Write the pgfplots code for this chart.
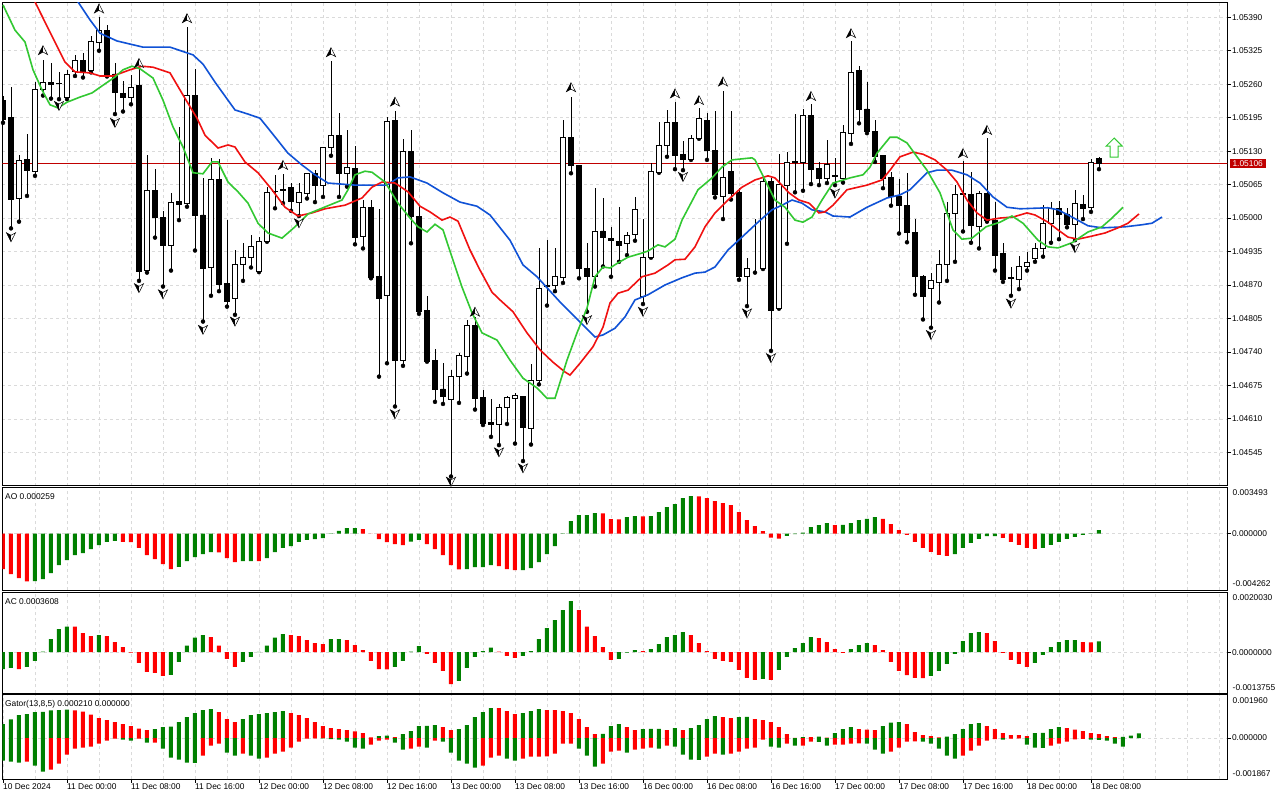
\documentclass[border=0pt]{standalone}
\usepackage{fontspec}
\setmainfont{Liberation Sans}
\usepackage{pgfplots}
\usepackage{pgfplotstable}
\pgfplotsset{compat=1.18}

\definecolor{aogreen}{RGB}{0,128,0}
\definecolor{aored}{RGB}{255,0,0}
\definecolor{jaw}{RGB}{16,82,214}
\definecolor{teeth}{RGB}{240,16,16}
\definecolor{lips}{RGB}{50,200,50}
\definecolor{bidred}{RGB}{192,0,0}
\definecolor{gridc}{RGB}{218,218,218}
\newcommand\lbl{\fontsize{8.4}{9.5}\selectfont}

\pgfdeclareplotmark{fup}{%
  \pgfpathmoveto{\pgfqpoint{0pt}{4.6pt}}%
  \pgfpathlineto{\pgfqpoint{4.6pt}{-4.4pt}}%
  \pgfpathlineto{\pgfqpoint{0pt}{-1.8pt}}%
  \pgfpathlineto{\pgfqpoint{-4.6pt}{-4.4pt}}%
  \pgfpathclose
  \pgfsetfillcolor{white}\pgfusepathqfillstroke
  \pgfpathmoveto{\pgfqpoint{0pt}{4.6pt}}%
  \pgfpathlineto{\pgfqpoint{0pt}{-1.8pt}}%
  \pgfpathlineto{\pgfqpoint{-4.6pt}{-4.4pt}}%
  \pgfpathclose
  \pgfsetfillcolor{black}\pgfusepathqfill}
\pgfdeclareplotmark{fdown}{%
  \pgfpathmoveto{\pgfqpoint{0pt}{-4.6pt}}%
  \pgfpathlineto{\pgfqpoint{4.6pt}{4.4pt}}%
  \pgfpathlineto{\pgfqpoint{0pt}{1.8pt}}%
  \pgfpathlineto{\pgfqpoint{-4.6pt}{4.4pt}}%
  \pgfpathclose
  \pgfsetfillcolor{white}\pgfusepathqfillstroke
  \pgfpathmoveto{\pgfqpoint{0pt}{-4.6pt}}%
  \pgfpathlineto{\pgfqpoint{0pt}{1.8pt}}%
  \pgfpathlineto{\pgfqpoint{-4.6pt}{4.4pt}}%
  \pgfpathclose
  \pgfsetfillcolor{black}\pgfusepathqfill}
\pgfdeclareplotmark{bigup}{%
  \pgfpathmoveto{\pgfqpoint{0pt}{9.5pt}}%
  \pgfpathlineto{\pgfqpoint{8pt}{1.5pt}}%
  \pgfpathlineto{\pgfqpoint{4pt}{1.5pt}}%
  \pgfpathlineto{\pgfqpoint{4pt}{-9.5pt}}%
  \pgfpathlineto{\pgfqpoint{-4pt}{-9.5pt}}%
  \pgfpathlineto{\pgfqpoint{-4pt}{1.5pt}}%
  \pgfpathlineto{\pgfqpoint{-8pt}{1.5pt}}%
  \pgfpathclose
  \pgfusepathqfillstroke}

\pgfplotstableread{
k o h l c
0 1.05229 1.05237 1.05185 1.05192
1 1.05195 1.05254 1.04980 1.05036
2 1.05038 1.05123 1.04993 1.05112
3 1.05114 1.05163 1.05043 1.05093
4 1.05091 1.05265 1.05082 1.05250
5 1.05249 1.05308 1.05238 1.05264
6 1.05264 1.05302 1.05232 1.05260
7 1.05262 1.05284 1.05231 1.05261
8 1.05235 1.05288 1.05231 1.05279
9 1.05284 1.05317 1.05276 1.05306
10 1.05306 1.05320 1.05273 1.05284
11 1.05286 1.05354 1.05283 1.05343
12 1.05341 1.05390 1.05325 1.05365
13 1.05365 1.05375 1.05275 1.05278
14 1.05280 1.05301 1.05202 1.05244
15 1.05242 1.05266 1.05207 1.05234
16 1.05235 1.05278 1.05221 1.05254
17 1.05257 1.05289 1.04878 1.04896
18 1.04899 1.05123 1.04894 1.05053
19 1.05053 1.05095 1.04962 1.05001
20 1.05002 1.05014 1.04867 1.04946
21 1.04946 1.05049 1.04898 1.05031
22 1.05032 1.05177 1.04996 1.05027
23 1.05029 1.05371 1.05022 1.05239
24 1.05239 1.05289 1.04937 1.05005
25 1.05006 1.05077 1.04799 1.04902
26 1.04904 1.05116 1.04849 1.05075
27 1.05075 1.05115 1.04858 1.04872
28 1.04873 1.04996 1.04828 1.04839
29 1.04844 1.04938 1.04812 1.04910
30 1.04910 1.04951 1.04878 1.04924
31 1.04924 1.04968 1.04904 1.04945
32 1.04897 1.04964 1.04895 1.04955
33 1.04955 1.05061 1.04954 1.05050
34 1.05051 1.05084 1.05019 1.05050
35 1.05056 1.05086 1.05029 1.05054
36 1.05059 1.05069 1.05014 1.05032
37 1.05031 1.05069 1.05004 1.05050
38 1.05048 1.05087 1.05038 1.05086
39 1.05086 1.05093 1.05031 1.05063
40 1.05063 1.05138 1.05041 1.05137
41 1.05137 1.05305 1.05121 1.05161
42 1.05161 1.05205 1.05041 1.05087
43 1.05087 1.05171 1.05061 1.05099
44 1.05097 1.05140 1.04949 1.04962
45 1.04964 1.05036 1.04941 1.05021
46 1.05021 1.05036 1.04883 1.04885
47 1.04887 1.05017 1.04692 1.04844
48 1.04849 1.05197 1.04718 1.05187
49 1.05190 1.05207 1.04634 1.04724
50 1.04723 1.05153 1.04713 1.05130
51 1.05130 1.05171 1.04951 1.05003
52 1.05004 1.05025 1.04814 1.04819
53 1.04821 1.04849 1.04721 1.04722
54 1.04724 1.04745 1.04643 1.04667
55 1.04668 1.04718 1.04639 1.04654
56 1.04648 1.04705 1.04498 1.04693
57 1.04692 1.04738 1.04641 1.04733
58 1.04731 1.04802 1.04698 1.04792
59 1.04792 1.04808 1.04628 1.04650
60 1.04651 1.04666 1.04598 1.04602
61 1.04603 1.04648 1.04575 1.04599
62 1.04599 1.04638 1.04559 1.04632
63 1.04632 1.04655 1.04600 1.04651
64 1.04650 1.04660 1.04562 1.04655
65 1.04653 1.04654 1.04528 1.04593
66 1.04592 1.04716 1.04560 1.04685
67 1.04685 1.04941 1.04677 1.04864
68 1.04869 1.04957 1.04830 1.04867
69 1.04869 1.04941 1.04858 1.04887
70 1.04885 1.05190 1.04874 1.05157
71 1.05157 1.05236 1.05087 1.05102
72 1.05103 1.05104 1.04883 1.04902
73 1.04902 1.04951 1.04818 1.04886
74 1.04887 1.05058 1.04867 1.04975
75 1.04975 1.05038 1.04906 1.04962
76 1.04961 1.04982 1.04886 1.04957
77 1.04955 1.05022 1.04915 1.04946
78 1.04951 1.04972 1.04928 1.04967
79 1.04968 1.05040 1.04956 1.05017
80 1.04847 1.04998 1.04833 1.04924
81 1.04924 1.05106 1.04923 1.05090
82 1.05089 1.05187 1.05088 1.05141
83 1.05141 1.05210 1.05119 1.05185
84 1.05186 1.05225 1.05095 1.05121
85 1.05123 1.05150 1.05093 1.05114
86 1.05114 1.05161 1.05113 1.05155
87 1.05155 1.05213 1.05154 1.05194
88 1.05190 1.05205 1.05113 1.05131
89 1.05132 1.05207 1.05040 1.05046
90 1.05043 1.05247 1.04998 1.05079
91 1.05091 1.05208 1.05036 1.05048
92 1.05049 1.05058 1.04880 1.04886
93 1.04886 1.04923 1.04829 1.04902
94 1.04904 1.04998 1.04894 1.04904
95 1.04902 1.05079 1.04901 1.05072
96 1.05072 1.05077 1.04742 1.04821
97 1.04825 1.05124 1.04824 1.05066
98 1.05063 1.05128 1.04950 1.05109
99 1.05110 1.05202 1.05050 1.05108
100 1.05108 1.05212 1.05053 1.05199
101 1.05200 1.05222 1.05066 1.05095
102 1.05097 1.05108 1.05064 1.05078
103 1.05077 1.05152 1.05068 1.05105
104 1.05082 1.05116 1.05064 1.05080
105 1.05077 1.05181 1.05069 1.05167
106 1.05165 1.05343 1.05144 1.05282
107 1.05286 1.05295 1.05184 1.05211
108 1.05212 1.05265 1.05165 1.05168
109 1.05169 1.05190 1.05109 1.05119
110 1.05121 1.05122 1.05058 1.05078
111 1.05079 1.05090 1.05024 1.05043
112 1.05043 1.05076 1.04970 1.05024
113 1.05025 1.05088 1.04953 1.04972
114 1.04972 1.04999 1.04851 1.04886
115 1.04887 1.04889 1.04803 1.04847
116 1.04864 1.04893 1.04787 1.04878
117 1.04876 1.04938 1.04836 1.04910
118 1.04910 1.05031 1.04878 1.05009
119 1.05009 1.05064 1.04915 1.05045
120 1.05047 1.05111 1.04974 1.05045
121 1.05046 1.05090 1.04952 1.04985
122 1.04983 1.05053 1.04941 1.05048
123 1.05048 1.05155 1.04993 1.04996
124 1.04996 1.05032 1.04898 1.04928
125 1.04932 1.04951 1.04876 1.04880
126 1.04884 1.04904 1.04849 1.04882
127 1.04880 1.04926 1.04862 1.04906
128 1.04906 1.04935 1.04898 1.04914
129 1.04922 1.04951 1.04915 1.04941
130 1.04941 1.05025 1.04925 1.04990
131 1.04990 1.05032 1.04952 1.05019
132 1.05018 1.05033 1.04959 1.05008
133 1.05008 1.05019 1.04982 1.04987
134 1.04988 1.05054 1.04957 1.05029
135 1.05027 1.05045 1.04998 1.05019
136 1.05021 1.05114 1.05012 1.05108
137 1.05116 1.05119 1.05095 1.05106
}\candles

\pgfplotstableread{
k v g
0 -0.002693 0
1 -0.003071 0
2 -0.003373 0
3 -0.003610 0
4 -0.003599 1
5 -0.003448 1
6 -0.002995 1
7 -0.002391 1
8 -0.002014 1
9 -0.001636 1
10 -0.001485 1
11 -0.001183 1
12 -0.000881 1
13 -0.000629 1
14 -0.000554 1
15 -0.000629 0
16 -0.000654 0
17 -0.001082 0
18 -0.001636 0
19 -0.001938 0
20 -0.002316 0
21 -0.002693 0
22 -0.002517 1
23 -0.002089 1
24 -0.001787 1
25 -0.001561 1
26 -0.001410 1
27 -0.001420 0
28 -0.001863 0
29 -0.002165 0
30 -0.002089 1
31 -0.002080 1
32 -0.002085 0
33 -0.001863 1
34 -0.001410 1
35 -0.001082 1
36 -0.000956 1
37 -0.000629 1
38 -0.000478 1
39 -0.000428 1
40 -0.000352 1
41 -0.000025 1
42 0.000201 1
43 0.000403 1
44 0.000410 1
45 0.000327 0
46 -0.000010 0
47 -0.000428 0
48 -0.000654 0
49 -0.000805 0
50 -0.000881 0
51 -0.000604 1
52 -0.000478 1
53 -0.000805 0
54 -0.001183 0
55 -0.001636 0
56 -0.002391 0
57 -0.002700 0
58 -0.002690 1
59 -0.002542 1
60 -0.002540 1
61 -0.002391 1
62 -0.002467 0
63 -0.002693 0
64 -0.002769 0
65 -0.002765 1
66 -0.002618 1
67 -0.002165 1
68 -0.001561 1
69 -0.000956 1
70 0.000010 1
71 0.000931 1
72 0.001384 1
73 0.001390 1
74 0.001535 1
75 0.001530 0
76 0.001082 0
77 0.001078 0
78 0.001233 1
79 0.001309 1
80 0.001300 0
81 0.001320 1
82 0.001611 1
83 0.001988 1
84 0.002215 1
85 0.002668 1
86 0.002819 1
87 0.002810 0
88 0.002668 0
89 0.002441 0
90 0.002290 0
91 0.002139 0
92 0.001611 0
93 0.001007 0
94 0.000554 0
95 0.000176 0
96 -0.000302 0
97 -0.000378 0
98 -0.000176 1
99 -0.000050 1
100 0.000076 1
101 0.000478 1
102 0.000629 1
103 0.000780 1
104 0.000629 0
105 0.000654 1
106 0.000780 1
107 0.001007 1
108 0.001107 1
109 0.001233 1
110 0.001107 0
111 0.000705 0
112 0.000252 0
113 -0.000101 0
114 -0.000629 0
115 -0.001082 0
116 -0.001384 0
117 -0.001611 0
118 -0.001686 0
119 -0.001561 1
120 -0.001082 1
121 -0.000705 1
122 -0.000403 1
123 -0.000201 1
124 -0.000195 1
125 -0.000327 0
126 -0.000629 0
127 -0.000856 0
128 -0.001082 0
129 -0.001158 0
130 -0.001082 1
131 -0.000856 1
132 -0.000629 1
133 -0.000403 1
134 -0.000252 1
135 -0.000101 1
136 -0.000025 1
137 0.000259 1
}\aotab

\pgfplotstableread{
k v g
0 -0.000569 1
1 -0.000524 1
2 -0.000569 0
3 -0.000491 1
4 -0.000290 1
5 0.000022 1
6 0.000435 1
7 0.000769 1
8 0.000859 1
9 0.000855 0
10 0.000636 0
11 0.000535 0
12 0.000569 1
13 0.000535 0
14 0.000335 0
15 0.000167 0
16 -0.000011 0
17 -0.000357 0
18 -0.000658 0
19 -0.000691 0
20 -0.000792 0
21 -0.000758 1
22 -0.000323 1
23 0.000223 1
24 0.000491 1
25 0.000569 1
26 0.000502 0
27 0.000223 0
28 -0.000223 0
29 -0.000491 0
30 -0.000323 1
31 -0.000156 1
32 0.000011 1
33 0.000223 1
34 0.000491 1
35 0.000602 1
36 0.000569 0
37 0.000535 0
38 0.000401 0
39 0.000301 0
40 0.000268 0
41 0.000435 1
42 0.000440 1
43 0.000401 0
44 0.000234 0
45 0.000067 0
46 -0.000290 0
47 -0.000569 0
48 -0.000575 0
49 -0.000491 1
50 -0.000290 1
51 0.000022 1
52 0.000201 1
53 -0.000056 0
54 -0.000357 0
55 -0.000624 0
56 -0.001070 0
57 -0.000959 1
58 -0.000524 1
59 -0.000156 1
60 0.000033 1
61 0.000156 1
62 0.000022 0
63 -0.000123 0
64 -0.000190 0
65 -0.000123 1
66 0.000033 1
67 0.000435 1
68 0.000803 1
69 0.001070 1
70 0.001405 1
71 0.001706 1
72 0.001405 0
73 0.000859 0
74 0.000535 0
75 0.000167 0
76 -0.000256 0
77 -0.000223 1
78 -0.000011 1
79 0.000067 1
80 0.000033 0
81 0.000100 1
82 0.000268 1
83 0.000502 1
84 0.000569 1
85 0.000669 1
86 0.000569 0
87 0.000301 0
88 0.000033 0
89 -0.000223 0
90 -0.000290 0
91 -0.000323 0
92 -0.000591 0
93 -0.000859 0
94 -0.000925 0
95 -0.000892 1
96 -0.000925 0
97 -0.000591 1
98 -0.000156 1
99 0.000134 1
100 0.000301 1
101 0.000502 1
102 0.000468 0
103 0.000335 0
104 0.000100 0
105 -0.000022 0
106 0.000100 1
107 0.000234 1
108 0.000301 1
109 0.000234 0
110 0.000067 0
111 -0.000323 0
112 -0.000624 0
113 -0.000769 0
114 -0.000859 0
115 -0.000865 0
116 -0.000792 1
117 -0.000624 1
118 -0.000390 1
119 -0.000056 1
120 0.000368 1
121 0.000636 1
122 0.000669 1
123 0.000636 0
124 0.000368 0
125 -0.000022 0
126 -0.000256 0
127 -0.000390 0
128 -0.000491 0
129 -0.000357 1
130 -0.000089 1
131 0.000167 1
132 0.000335 1
133 0.000401 1
134 0.000405 1
135 0.000335 0
136 0.000330 0
137 0.000361 1
}\actab

\pgfplotstableread{
k v g
0 0.000633 1
1 0.000844 1
2 0.001040 1
3 0.001085 1
4 0.001175 1
5 0.001180 1
6 0.001251 1
7 0.001266 1
8 0.001280 1
9 0.001251 0
10 0.001191 0
11 0.001055 0
12 0.000904 0
13 0.000814 0
14 0.000723 0
15 0.000633 0
16 0.000543 0
17 0.000422 0
18 0.000362 0
19 0.000407 1
20 0.000497 1
21 0.000512 1
22 0.000723 1
23 0.000949 1
24 0.001130 1
25 0.001266 1
26 0.001311 1
27 0.001175 0
28 0.000859 0
29 0.000723 0
30 0.000859 1
31 0.001040 1
32 0.001085 1
33 0.001130 1
34 0.001175 1
35 0.001221 1
36 0.001130 0
37 0.001040 0
38 0.000904 0
39 0.000723 0
40 0.000543 0
41 0.000452 0
42 0.000407 0
43 0.000362 0
44 0.000301 0
45 0.000226 0
46 0.000030 0
47 0.000090 1
48 0.000105 1
49 0.000045 0
50 0.000181 1
51 0.000316 1
52 0.000543 1
53 0.000550 1
54 0.000588 1
55 0.000497 0
56 0.000362 0
57 0.000407 1
58 0.000588 1
59 0.000949 1
60 0.001175 1
61 0.001356 1
62 0.001350 0
63 0.001221 0
64 0.001085 0
65 0.001130 1
66 0.001221 1
67 0.001311 1
68 0.001266 0
69 0.001260 0
70 0.001221 0
71 0.001130 0
72 0.000859 0
73 0.000497 0
74 0.000181 0
75 0.000190 1
76 0.000543 1
77 0.000633 1
78 0.000497 0
79 0.000362 0
80 0.000407 1
81 0.000410 1
82 0.000415 1
83 0.000362 0
84 0.000452 1
85 0.000362 0
86 0.000452 1
87 0.000588 1
88 0.000859 1
89 0.000995 1
90 0.000949 0
91 0.000904 0
92 0.000949 1
93 0.000955 1
94 0.000859 0
95 0.000814 0
96 0.000723 0
97 0.000497 0
98 0.000181 0
99 0.000010 0
100 0.000045 1
101 0.000040 0
102 0.000060 1
103 0.000020 0
104 0.000226 1
105 0.000407 1
106 0.000497 1
107 0.000407 0
108 0.000377 0
109 0.000362 0
110 0.000543 1
111 0.000693 1
112 0.000723 1
113 0.000633 0
114 0.000271 0
115 0.000136 0
116 0.000090 0
117 0.000030 0
118 0.000060 1
119 0.000181 1
120 0.000407 1
121 0.000633 1
122 0.000678 1
123 0.000543 0
124 0.000407 0
125 0.000226 0
126 0.000136 0
127 0.000130 0
128 0.000090 0
129 0.000226 1
130 0.000230 1
131 0.000407 1
132 0.000497 1
133 0.000452 0
134 0.000377 0
135 0.000316 0
136 0.000226 0
137 0.000181 0
138 0.000090 0
139 0.000045 0
140 0.000050 1
141 0.000105 1
142 0.000210 1
}\gup

\pgfplotstableread{
k v g
0 -0.001025 1
1 -0.001070 1
2 -0.001115 1
3 -0.001070 0
4 -0.001251 1
5 -0.001522 1
6 -0.001432 0
7 -0.001160 0
8 -0.000754 0
9 -0.000482 0
10 -0.000437 0
11 -0.000392 0
12 -0.000256 0
13 -0.000121 0
14 -0.000030 0
15 -0.000075 1
16 -0.000121 1
17 -0.000030 0
18 -0.000211 1
19 -0.000205 0
20 -0.000482 1
21 -0.000889 1
22 -0.000980 1
23 -0.001115 1
24 -0.001120 1
25 -0.000799 0
26 -0.000347 0
27 -0.000256 0
28 -0.000663 1
29 -0.000799 1
30 -0.000708 0
31 -0.000799 1
32 -0.000934 1
33 -0.000889 0
34 -0.000708 0
35 -0.000618 0
36 -0.000437 0
37 -0.000166 0
38 -0.000030 0
39 -0.000015 0
40 -0.000020 1
41 -0.000045 1
42 -0.000075 1
43 -0.000166 1
44 -0.000437 1
45 -0.000482 1
46 -0.000301 0
47 -0.000121 0
48 -0.000075 0
49 -0.000211 1
50 -0.000527 1
51 -0.000482 0
52 -0.000392 0
53 -0.000437 1
54 -0.000121 0
55 -0.000166 1
56 -0.000663 1
57 -0.001025 1
58 -0.001160 1
59 -0.001341 1
60 -0.001251 0
61 -0.000889 0
62 -0.000799 0
63 -0.000934 1
64 -0.001025 1
65 -0.000934 0
66 -0.000844 0
67 -0.000840 0
68 -0.000835 0
69 -0.000708 0
70 -0.000256 0
71 -0.000250 0
72 -0.000482 1
73 -0.000799 1
74 -0.001296 1
75 -0.001160 0
76 -0.000618 0
77 -0.000573 0
78 -0.000663 1
79 -0.000527 0
80 -0.000482 0
81 -0.000437 0
82 -0.000482 1
83 -0.000347 0
84 -0.000392 1
85 -0.000754 1
86 -0.000980 1
87 -0.000985 1
88 -0.000844 0
89 -0.000708 0
90 -0.000754 1
91 -0.000708 0
92 -0.000618 0
93 -0.000482 0
94 -0.000437 0
95 -0.000075 0
96 -0.000392 1
97 -0.000437 1
98 -0.000256 0
99 -0.000347 1
100 -0.000340 0
101 -0.000166 0
102 -0.000170 1
103 -0.000347 1
104 -0.000301 0
105 -0.000296 0
106 -0.000256 0
107 -0.000241 0
108 -0.000256 1
109 -0.000527 1
110 -0.000708 1
111 -0.000618 0
112 -0.000437 0
113 -0.000166 0
114 -0.000150 0
115 -0.000166 1
116 -0.000256 1
117 -0.000482 1
118 -0.000799 1
119 -0.000934 1
120 -0.000799 0
121 -0.000573 0
122 -0.000347 0
123 -0.000121 0
124 -0.000045 0
125 -0.000075 1
126 -0.000030 0
127 -0.000020 0
128 -0.000301 1
129 -0.000437 1
130 -0.000440 1
131 -0.000347 0
132 -0.000256 0
133 -0.000166 0
134 -0.000060 0
135 -0.000040 0
136 -0.000075 1
137 -0.000080 1
138 -0.000121 1
139 -0.000256 1
140 -0.000392 1
}\gdown

\pgfplotsset{
  base/.style={scale only axis, width=1225pt, xmin=-0.0875, xmax=153.04,
    scaled y ticks=false, scaled x ticks=false,
    axis line style={black, line width=0.8pt},
    every tick label/.append style={font=\lbl, inner sep=0pt},
    major grid style={gridc, dash pattern=on 3pt off 3pt, line width=0.6pt}},
  gridx/.style={xtick={4,8,...,152}, xticklabels={}, xtick style={draw=none}, xmajorgrids},
  righty/.style={ytick pos=right, yticklabel pos=right, tick align=outside,
    major tick length=3.5pt, ytick style={black, line width=0.8pt},
    yticklabel style={anchor=west, xshift=1pt}, ymajorgrids},
  ov/.style={scale only axis, width=1225pt, xmin=-0.0875, xmax=153.04, hide axis},
  gbar/.style={ybar, bar shift=0pt, bar width=4pt, draw=none, fill=aogreen,
    restrict expr to domain={\thisrow{g}}{0.5:1.5}},
  rbar/.style={ybar, bar shift=0pt, bar width=4pt, draw=none, fill=aored,
    restrict expr to domain={\thisrow{g}}{-0.5:0.5}},
}

\begin{document}
\begin{tikzpicture}
\path[use as bounding box, fill=white] (0,0) rectangle (1280pt,-800pt);

% ---------- main price window: grid, bid line, wicks
\begin{axis}[base, gridx, righty, at={(2.3pt,-2.3pt)}, anchor=north west,
  height=483.2pt, ymin=1.044805, ymax=1.054191,
  ytick={1.04545,1.04610,1.04675,1.04740,1.04805,1.04870,1.04935,1.05000,1.05065,1.05130,1.05195,1.05260,1.05325,1.05390},
  yticklabels={1.04545,1.04610,1.04675,1.04740,1.04805,1.04870,1.04935,1.05000,1.05065,1.05130,1.05195,1.05260,1.05325,1.05390}]
\addplot[bidred, line width=0.8pt] coordinates {(-1,1.05106) (160,1.05106)};
\addplot[only marks, mark=none,
  error bars/.cd, y dir=plus, y explicit, error mark=none,
  error bar style={draw=black, line width=0.8pt, solid}]
  table[x=k, y=l, y error plus expr={\thisrow{h}-\thisrow{l}}] {\candles};
\end{axis}

% ---------- candle bodies
\begin{axis}[ov, at={(2.3pt,-2.3pt)}, anchor=north west,
  height=483.2pt, ymin=1.044805, ymax=1.054191, ybar stacked, bar width=4.2pt]
\addplot[draw=none, fill=none] table[x=k, y expr={min(\thisrow{o},\thisrow{c})}] {\candles};
\addplot[draw=black, fill=white, line width=0.8pt] table[x=k, y expr={max(\thisrow{c}-\thisrow{o},0)}] {\candles};
\addplot[draw=black, fill=black, line width=0.8pt] table[x=k, y expr={max(\thisrow{o}-\thisrow{c},0)}] {\candles};
\end{axis}

% ---------- alligator, fractals, signal arrow
\begin{axis}[ov, at={(2.3pt,-2.3pt)}, anchor=north west,
  height=483.2pt, ymin=1.044805, ymax=1.054191]
\addplot[jaw, line width=1.6pt] coordinates {
(8.375,1.05439) (9.375,1.05420) (10.875,1.05385) (12.125,1.05359) (14.25,1.05344) (17.5,1.05332) (20.875,1.05332) (23.75,1.05317) (25,1.05299) (26.5,1.05264) (29,1.05210) (30.625,1.05202) (32.125,1.05194) (33.625,1.05165) (35.625,1.05126) (37.375,1.05103) (39,1.05084) (40.625,1.05068) (44,1.05064) (48,1.05064) (49.375,1.05078) (50.875,1.05080) (53,1.05068) (55,1.05049) (57.125,1.05031) (59.25,1.05023) (60.875,1.05006) (63.375,1.04957) (65,1.04909) (66.75,1.04886) (69.625,1.04837) (72.125,1.04798) (74,1.04769) (75,1.04773) (76.5,1.04786) (77.75,1.04808) (79,1.04841) (80.625,1.04851) (82.75,1.04870) (84.875,1.04884) (86.5,1.04893) (87.75,1.04895) (89,1.04905) (90.625,1.04938) (92.375,1.04963) (94.375,1.04992) (96.125,1.05016) (97.375,1.05025) (98.625,1.05035) (99.875,1.05029) (101.125,1.05016) (102.75,1.05012) (103.75,1.05004) (105.875,1.05002) (108,1.05021) (110.5,1.05039) (112.125,1.05045) (113.375,1.05055) (115.5,1.05088) (116.75,1.05093) (118.625,1.05093) (120.5,1.05084) (122.125,1.05068) (123.75,1.05041) (125.5,1.05021) (127.125,1.05018) (130.625,1.05020) (131.875,1.05016) (133.625,1.05002) (135.625,1.04985) (137.375,1.04981) (140.25,1.04983) (142.375,1.04987) (143.625,1.04990) (144.875,1.05002)};
\addplot[teeth, line width=1.6pt] coordinates {
(3.125,1.05443) (4,1.05420) (5.875,1.05361) (7.75,1.05303) (9,1.05284) (10.875,1.05282) (12.125,1.05276) (13.75,1.05276) (15.875,1.05288) (17.375,1.05295) (18.75,1.05293) (20.875,1.05282) (22.5,1.05239) (24.25,1.05194) (25.25,1.05161) (26.875,1.05136) (28.125,1.05142) (29,1.05138) (30.25,1.05109) (31.875,1.05088) (33.625,1.05055) (35.25,1.05021) (36.875,1.05004) (38.625,1.05010) (40.25,1.05018) (42.75,1.05025) (44.875,1.05039) (46.125,1.05060) (47.375,1.05070) (49,1.05068) (50.625,1.05051) (52.125,1.05023) (53.375,1.05012) (54.875,1.04996) (55.875,1.05002) (56.875,1.04994) (58.375,1.04938) (59.625,1.04899) (61.125,1.04856) (62.125,1.04841) (63.75,1.04818) (65.5,1.04777) (67.125,1.04744) (68.75,1.04720) (70.25,1.04701) (70.875,1.04695) (72.125,1.04718) (73.75,1.04750) (75,1.04788) (75.875,1.04835) (76.875,1.04854) (78.125,1.04860) (79.875,1.04886) (81.5,1.04893) (83.125,1.04909) (84,1.04919) (85.25,1.04920) (86.5,1.04944) (87.75,1.04983) (89,1.05010) (90.625,1.05035) (92.375,1.05060) (94,1.05074) (95.625,1.05082) (96.5,1.05078) (98.25,1.05049) (99.5,1.05035) (100.75,1.05029) (102,1.05010) (102.75,1.05012) (103.75,1.05025) (105.5,1.05055) (108,1.05064) (109.875,1.05074) (110.875,1.05093) (112.125,1.05119) (113.75,1.05128) (115,1.05124) (116.5,1.05113) (118,1.05093) (119.25,1.05070) (120.5,1.05035) (121.75,1.05010) (123,1.04996) (124.625,1.05000) (126.25,1.05002) (128,1.05010) (129,1.05006) (130.625,1.04992) (131.875,1.04977) (133.125,1.04963) (134.375,1.04959) (136.125,1.04965) (137.75,1.04971) (139.375,1.04981) (140.625,1.04990) (142,1.05008)};
\addplot[lips, line width=1.6pt] coordinates {
(0,1.05414) (1.5,1.05365) (2.75,1.05342) (3.75,1.05288) (4.875,1.05249) (5.875,1.05220) (6.875,1.05214) (8,1.05225) (9.625,1.05235) (11.125,1.05243) (12.5,1.05258) (14,1.05274) (15,1.05288) (16.125,1.05295) (17.125,1.05290) (18.75,1.05272) (20,1.05229) (21.25,1.05177) (22.5,1.05138) (23.75,1.05088) (25,1.05086) (26.125,1.05109) (26.875,1.05109) (28.125,1.05070) (29.375,1.05051) (30.625,1.05029) (31.875,1.04990) (33.125,1.04971) (34.875,1.04961) (36.5,1.04983) (38.125,1.05008) (40,1.05020) (42.375,1.05035) (43.125,1.05055) (44,1.05084) (45.25,1.05091) (46.125,1.05089) (47.75,1.05070) (49.375,1.05029) (50.875,1.05000) (51.875,1.04983) (53,1.04973) (54,1.04988) (55,1.04977) (56.125,1.04924) (57.375,1.04866) (58.625,1.04816) (59.875,1.04777) (61.75,1.04763) (63.375,1.04724) (65,1.04689) (66.75,1.04670) (68,1.04650) (69,1.04650) (70.5,1.04724) (71.75,1.04777) (73,1.04825) (74,1.04886) (75,1.04905) (75.875,1.04903) (76.875,1.04913) (78.125,1.04924) (79.875,1.04932) (80.625,1.04936) (81.875,1.04948) (82.75,1.04944) (84,1.04959) (84.875,1.04996) (86.875,1.05055) (88.625,1.05078) (89.875,1.05099) (91.125,1.05113) (93.625,1.05117) (94,1.05113) (95.25,1.05074) (96.5,1.05035) (97.75,1.05021) (99,1.04996) (100,1.04992) (101.125,1.05002) (102.375,1.05035) (103.75,1.05068) (105.875,1.05078) (107.5,1.05084) (108.375,1.05099) (109.25,1.05126) (110.875,1.05157) (111.75,1.05157) (113,1.05146) (114.25,1.05119) (115.5,1.05093) (117.125,1.05049) (118,1.05010) (118.75,1.04977) (119.875,1.04959) (121.125,1.04961) (122.875,1.04983) (124.625,1.04992) (126.125,1.05004) (127.5,1.04990) (129.375,1.04957) (130.625,1.04944) (131.875,1.04942) (133.625,1.04952) (135.625,1.04973) (137.375,1.04983) (138.625,1.05000) (140,1.05021)};
\addplot[only marks, black, mark=fup, mark options={line width=0.5pt}] coordinates {
(5,1.05326) (12,1.05407) (17,1.05301) (23,1.05388) (35,1.05103) (41,1.05322) (49,1.05226) (59,1.04818) (71,1.05254) (84,1.05242) (87,1.05229) (90,1.05265) (101,1.05237) (106,1.05359) (120,1.05126) (123,1.05171)};
\addplot[only marks, black, mark=fdown, mark options={line width=0.5pt}] coordinates {
(1,1.04963) (7,1.05218) (14,1.05185) (17,1.04864) (20,1.04852) (25,1.04783) (29,1.04799) (37,1.04990) (49,1.04619) (56,1.04488) (62,1.04545) (65,1.04514) (73,1.04802) (80,1.04818) (85,1.05080) (93,1.04815) (96,1.04728) (104,1.05048) (116,1.04773) (126,1.04834) (134,1.04942)};
\addplot[only marks, mark=bigup, mark options={draw=lips, fill=white, line width=1pt}] coordinates {(138.9,1.05137)};
\end{axis}

% ---------- AO
\begin{axis}[base, gridx, righty, at={(2.3pt,-487.3pt)}, anchor=north west,
  height=102.7pt, ymin=-0.004262, ymax=0.003493, ytick={0}, yticklabels={0.000000}]
\addplot[gbar] table[x=k, y=v] {\aotab};
\addplot[rbar] table[x=k, y=v] {\aotab};
\end{axis}

% ---------- AC
\begin{axis}[base, gridx, righty, at={(2.3pt,-592.3pt)}, anchor=north west,
  height=101pt, ymin=-0.0013755, ymax=0.0020030, ytick={0}, yticklabels={0.0000000}]
\addplot[gbar] table[x=k, y=v] {\actab};
\addplot[rbar] table[x=k, y=v] {\actab};
\end{axis}

% ---------- Gator
\begin{axis}[base, righty, at={(2.3pt,-694.7pt)}, anchor=north west,
  height=84.6pt, ymin=-0.001867, ymax=0.001960, ytick={0}, yticklabels={0.000000},
  xtick={0,8,...,136}, xtick pos=bottom, xmajorgrids,
  xtick style={black, line width=0.8pt},
  xticklabels={10 Dec 2024, 11 Dec 00:00, 11 Dec 08:00, 11 Dec 16:00, 12 Dec 00:00, 12 Dec 08:00, 12 Dec 16:00, 13 Dec 00:00, 13 Dec 08:00, 13 Dec 16:00, 16 Dec 00:00, 16 Dec 08:00, 16 Dec 16:00, 17 Dec 00:00, 17 Dec 08:00, 17 Dec 16:00, 18 Dec 00:00, 18 Dec 08:00},
  xticklabel style={anchor=north west, yshift=-1pt},
  extra x ticks={4,12,...,132,140,144,148,152}, extra x tick labels={},
  extra x tick style={grid=major, major tick length=0pt}]
\addplot[gbar] table[x=k, y=v] {\gup};
\addplot[rbar] table[x=k, y=v] {\gup};
\addplot[gbar] table[x=k, y=v] {\gdown};
\addplot[rbar] table[x=k, y=v] {\gdown};
\end{axis}

% ---------- texts
\node[anchor=west, inner sep=0pt, font=\lbl] at (5pt,-496.5pt) {AO 0.000259};
\node[anchor=west, inner sep=0pt, font=\lbl] at (5pt,-601.5pt) {AC 0.0003608};
\node[anchor=west, inner sep=0pt, font=\lbl] at (5pt,-704.5pt) {Gator(13,8,5) 0.000210 0.000000};
\node[anchor=west, inner sep=0pt, font=\lbl] at (1232.5pt,-492.3pt) {0.003493};
\node[anchor=west, inner sep=0pt, font=\lbl] at (1232.5pt,-584pt) {-0.004262};
\node[anchor=west, inner sep=0pt, font=\lbl] at (1232.5pt,-597.3pt) {0.0020030};
\node[anchor=west, inner sep=0pt, font=\lbl] at (1232.5pt,-687.3pt) {-0.0013755};
\node[anchor=west, inner sep=0pt, font=\lbl] at (1232.5pt,-700.7pt) {0.001960};
\node[anchor=west, inner sep=0pt, font=\lbl] at (1232.5pt,-773.3pt) {-0.001867};
\node[anchor=west, fill=bidred, text=white, inner xsep=3pt, inner ysep=0pt,
  minimum height=9.6pt, font=\lbl] at (1229.3pt,-163.4pt) {1.05106};
\end{tikzpicture}
\end{document}
